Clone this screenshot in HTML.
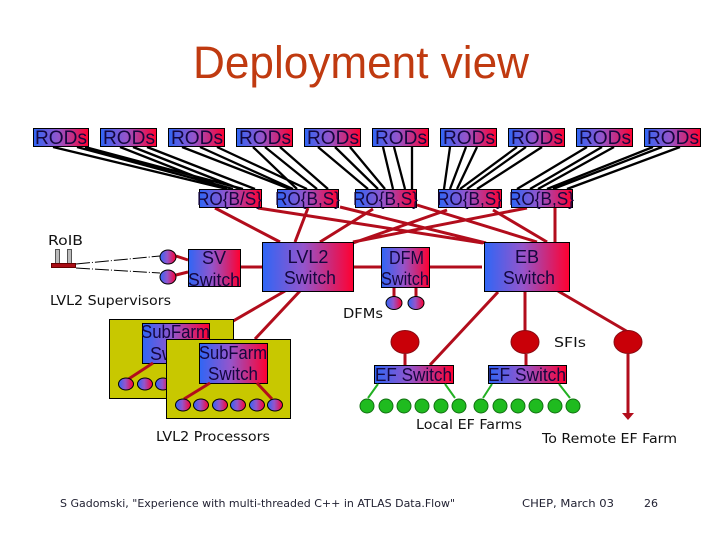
<!DOCTYPE html>
<html><head><meta charset="utf-8"><title>Deployment view</title>
<style>html,body{margin:0;padding:0;background:#fff}svg{display:block}
text{font-family:"DejaVu Sans","Liberation Sans",sans-serif}
.n text,text.n{font-family:"Liberation Sans",sans-serif;fill:#14073f}.l{fill:#111;font-size:13px}.f{fill:#223;font-size:11px}</style></head><body>
<svg width="720" height="540" viewBox="0 0 720 540" xmlns="http://www.w3.org/2000/svg">
<defs><linearGradient id="g"><stop offset="0" stop-color="#2f66f5"/><stop offset=".45" stop-color="#9455cc"/><stop offset="1" stop-color="#ff0030"/></linearGradient></defs>
<text x="193" y="78" font-size="45" fill="#c03a10" textLength="336" lengthAdjust="spacingAndGlyphs" style="font-family:'Liberation Sans',sans-serif">Deployment view</text>

<g stroke="#000" stroke-width="2.3" fill="none">
<path d="M53 147L227 189M77 147L233 189M85 147L243 189M120 147L227 189M133 147L240 189M147 147L255 189M182 147L290 189M200 147L293 189M217 147L307 189M253 147L297 189M265 147L317 189M280 147L328 189M318 147L368 189M335 147L378 189M350 147L385 189M383 147L393 189M394 147L405 189M412 147L412 189M450 147L444 189M466 147L450 189M477 147L457 189M517 147L460 189M526 147L467 189M542 147L477 189M587 147L517 189M602 147L530 189M614 147L538 189M653 147L547 189M662 147L553 189M680 147L567 189"/>
</g>

<g stroke="#b20d1c" stroke-width="3" fill="none">
<path d="M215 208L280 242M258 208L483 243M308 208L295 242M340 207L486 243M373 209L320 242M417 205L537 242M447 210L353 243M493 210L547 242M527 208L353 242M555 208V243"/>
<path d="M176 256L188 260M176 275L188 272M240 267H262M353 267H381M429 267H482M394 287V297M416 287V297M498 292L430 365M525 291V332M558 291L628 332M405 354V365M526 354V365M628 354V414M285 291L209 335M300 291L255 339"/>
</g>
<path d="M622 413H634L628 420Z" fill="#b20d1c"/>

<g stroke="#000" stroke-width="1" fill="url(#g)">
<rect x="33.500" y="128.500" width="55" height="18"/><rect x="100.500" y="128.500" width="56" height="18"/><rect x="168.500" y="128.500" width="56" height="18"/><rect x="236.500" y="128.500" width="56" height="18"/><rect x="304.500" y="128.500" width="56" height="18"/><rect x="372.500" y="128.500" width="56" height="18"/><rect x="440.500" y="128.500" width="56" height="18"/><rect x="508.500" y="128.500" width="56" height="18"/><rect x="576.500" y="128.500" width="56" height="18"/><rect x="644.500" y="128.500" width="56" height="18"/>
<rect x="199.500" y="189.500" width="62" height="18"/><rect x="277.500" y="189.500" width="61" height="18"/><rect x="355.500" y="189.500" width="61" height="18"/><rect x="438.500" y="189.500" width="63" height="18"/><rect x="511.500" y="189.500" width="61" height="18"/>
<rect x="188.500" y="249.500" width="52" height="37"/><rect x="262.500" y="242.500" width="91" height="49"/><rect x="381.500" y="247.500" width="48" height="40"/><rect x="484.500" y="242.500" width="85" height="49"/>
<rect x="374.500" y="365.500" width="79" height="18"/><rect x="488.500" y="365.500" width="78" height="18"/>
<ellipse cx="168" cy="257" rx="8" ry="7"/><ellipse cx="168" cy="277" rx="8" ry="7"/><ellipse cx="394" cy="303" rx="8" ry="6.500"/><ellipse cx="416" cy="303" rx="8" ry="6.500"/>
</g>

<g stroke="#000" stroke-width="1">
<rect x="109.500" y="319.500" width="124" height="79" fill="#c8c800"/>
<rect x="142.500" y="323.500" width="67" height="40" fill="url(#g)"/>
<path d="M153 363L127 380" stroke="#b20d1c" stroke-width="3"/>
<g fill="url(#g)"><ellipse cx="126" cy="384" rx="7.500" ry="6"/><ellipse cx="145" cy="384" rx="7.500" ry="6"/><ellipse cx="163" cy="384" rx="7.500" ry="6"/></g>
</g>
<text class="n" x="141" y="338" font-size="18" textLength="69" lengthAdjust="spacingAndGlyphs">SubFarm</text>
<text class="n" x="150" y="360" font-size="18">Sw</text>
<g stroke="#000" stroke-width="1">
<rect x="166.500" y="339.500" width="124" height="79" fill="#c8c800"/>
<rect x="199.500" y="343.500" width="68" height="40" fill="url(#g)"/>
<path d="M210 383L184 399M257 383L272 399" stroke="#b20d1c" stroke-width="3"/>
<g fill="url(#g)"><ellipse cx="183" cy="405" rx="7.500" ry="6"/><ellipse cx="201" cy="405" rx="7.500" ry="6"/><ellipse cx="220" cy="405" rx="7.500" ry="6"/><ellipse cx="238" cy="405" rx="7.500" ry="6"/><ellipse cx="257" cy="405" rx="7.500" ry="6"/><ellipse cx="275" cy="405" rx="7.500" ry="6"/></g>
</g>

<g fill="#c90008" stroke="#8a0a12"><ellipse cx="405" cy="342" rx="14" ry="11.500"/><ellipse cx="525" cy="342" rx="14" ry="11.500"/><ellipse cx="628" cy="342" rx="14" ry="11.500"/></g>

<path d="M378 384L368 398M445 384L455 398M492 384L483 398M559 384L570 398" stroke="#22b022" stroke-width="2"/>
<g fill="#1fbb1f" stroke="#117011"><circle cx="367" cy="406" r="7"/><circle cx="386" cy="406" r="7"/><circle cx="404" cy="406" r="7"/><circle cx="422" cy="406" r="7"/><circle cx="441" cy="406" r="7"/><circle cx="459" cy="406" r="7"/><circle cx="481" cy="406" r="7"/><circle cx="500" cy="406" r="7"/><circle cx="518" cy="406" r="7"/><circle cx="536" cy="406" r="7"/><circle cx="555" cy="406" r="7"/><circle cx="573" cy="406" r="7"/></g>

<rect x="55.500" y="249.500" width="4" height="14" fill="#bbb" stroke="#555"/><rect x="67.500" y="249.500" width="4" height="14" fill="#bbb" stroke="#555"/>
<rect x="51.500" y="263.500" width="24" height="4" fill="#a80c14" stroke="#600"/>
<path d="M76 264L160 256M76 268L160 273" stroke="#000" stroke-width="1" stroke-dasharray="14 2 1 2" fill="none"/>

<g class="n" font-size="19.500">
<text x="35" y="144" textLength="52" lengthAdjust="spacingAndGlyphs">RODs</text><text x="103" y="144" textLength="52" lengthAdjust="spacingAndGlyphs">RODs</text><text x="171" y="144" textLength="52" lengthAdjust="spacingAndGlyphs">RODs</text><text x="239" y="144" textLength="52" lengthAdjust="spacingAndGlyphs">RODs</text><text x="307" y="144" textLength="52" lengthAdjust="spacingAndGlyphs">RODs</text><text x="375" y="144" textLength="52" lengthAdjust="spacingAndGlyphs">RODs</text><text x="443" y="144" textLength="52" lengthAdjust="spacingAndGlyphs">RODs</text><text x="511" y="144" textLength="52" lengthAdjust="spacingAndGlyphs">RODs</text><text x="579" y="144" textLength="52" lengthAdjust="spacingAndGlyphs">RODs</text><text x="647" y="144" textLength="52" lengthAdjust="spacingAndGlyphs">RODs</text>
</g>
<g class="n" font-size="18">
<text x="197" y="205" textLength="65" lengthAdjust="spacingAndGlyphs">RO{B/S}</text><text x="275" y="205" textLength="65" lengthAdjust="spacingAndGlyphs">RO{B,S}</text><text x="353" y="205" textLength="65" lengthAdjust="spacingAndGlyphs">RO{B,S}</text><text x="437" y="205" textLength="65" lengthAdjust="spacingAndGlyphs">RO{B,S}</text><text x="509" y="205" textLength="65" lengthAdjust="spacingAndGlyphs">RO{B,S}</text>
<text x="214" y="264" text-anchor="middle">SV</text><text x="188" y="286" textLength="52" lengthAdjust="spacingAndGlyphs">Switch</text>
<text x="308" y="263" text-anchor="middle">LVL2</text><text x="284" y="284" textLength="52" lengthAdjust="spacingAndGlyphs">Switch</text>
<text x="389" y="264" textLength="35" lengthAdjust="spacingAndGlyphs">DFM</text><text x="381" y="285" textLength="48" lengthAdjust="spacingAndGlyphs">Switch</text>
<text x="527" y="263" text-anchor="middle">EB</text><text x="503" y="284" textLength="52" lengthAdjust="spacingAndGlyphs">Switch</text>
<text x="375" y="381" textLength="77" lengthAdjust="spacingAndGlyphs">EF Switch</text><text x="488" y="381" textLength="78" lengthAdjust="spacingAndGlyphs">EF Switch</text>
<text x="199" y="359" textLength="68" lengthAdjust="spacingAndGlyphs">SubFarm</text><text x="208" y="380" textLength="50" lengthAdjust="spacingAndGlyphs">Switch</text>
</g>
<g class="l">
<text x="48" y="245" textLength="35" lengthAdjust="spacingAndGlyphs">RoIB</text>
<text x="50" y="305" textLength="121" lengthAdjust="spacingAndGlyphs">LVL2 Supervisors</text>
<text x="343" y="318" textLength="40" lengthAdjust="spacingAndGlyphs">DFMs</text>
<text x="554" y="347" textLength="32" lengthAdjust="spacingAndGlyphs">SFIs</text>
<text x="156" y="441" textLength="114" lengthAdjust="spacingAndGlyphs">LVL2 Processors</text>
<text x="416" y="429" textLength="106" lengthAdjust="spacingAndGlyphs">Local EF Farms</text>
<text x="542" y="443" textLength="135" lengthAdjust="spacingAndGlyphs">To Remote EF Farm</text>
</g>
<g class="f">
<text x="60" y="507" textLength="395" lengthAdjust="spacingAndGlyphs">S Gadomski, "Experience with multi-threaded C++ in ATLAS Data.Flow"</text>
<text x="522" y="507" textLength="92" lengthAdjust="spacingAndGlyphs">CHEP, March 03</text>
<text x="644" y="507" textLength="14" lengthAdjust="spacingAndGlyphs">26</text>
</g>
</svg>
</body></html>
